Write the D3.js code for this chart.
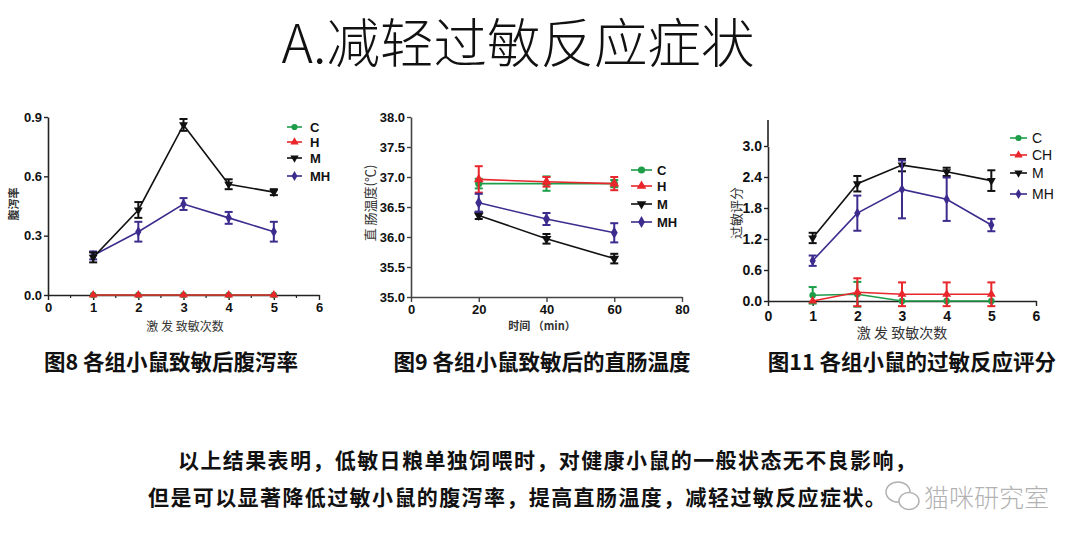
<!DOCTYPE html>
<html><head><meta charset="utf-8">
<script src="https://cdn.jsdelivr.net/npm/d3@7"></script>
<style>
body{margin:0;background:#fff;}
svg{display:block;}
</style></head>
<body>
<svg id="c" width="1080" height="544"></svg>
<script>
// ---------- data ----------
const groupsA = ["C","H","M","MH"];
const xA = [1,2,3,4,5];
const valA_C  = [0,0,0,0,0];
const valA_H  = [0,0,0,0,0];
const valA_M  = [0.19,0.43,0.86,0.56,0.52];
const errA_M  = [0.025,0.04,0.03,0.025,0.015];
const valA_MH = [0.20,0.32,0.46,0.39,0.32];
const errA_MH = [0.02,0.05,0.03,0.03,0.05];
const xTicksA = [0,1,2,3,4,5,6];
const yTicksA = [0,0.3,0.6,0.9];

const groupsB = ["C","H","M","MH"];
const xB = [20,40,60];
const valB_C  = [36.89,36.89,36.89];
const errB_C  = [0.08,0.12,0.06];
const valB_H  = [36.96,36.92,36.89];
const errB_H  = [0.22,0.08,0.11];
const valB_M  = [36.36,35.97,35.64];
const errB_M  = [0.06,0.08,0.08];
const valB_MH = [36.57,36.30,36.07];
const errB_MH = [0.15,0.10,0.16];
const xTicksB = [0,20,40,60,80];
const yTicksB = [35.0,35.5,36.0,36.5,37.0,37.5,38.0];

const groupsC = ["C","CH","M","MH"];
const xC = [1,2,3,4,5];
const valC_C  = [0.11,0.13,0,0,0];
const errC_C  = [0.16,0.24,0,0,0];
const valC_CH = [0,0.17,0.13,0.13,0.13];
const errC_CH = [0,0.27,0.23,0.23,0.23];
const valC_M  = [1.22,2.27,2.63,2.50,2.33];
const errC_M  = [0.10,0.15,0.12,0.08,0.20];
const valC_MH = [0.78,1.70,2.16,1.97,1.47];
const errC_MH = [0.10,0.34,0.56,0.42,0.12];
const xTicksC = [0,1,2,3,4,5,6];
const yTicksC = [0,0.6,1.2,1.8,2.4,3.0];

// ---------- drawing ----------
const svg = d3.select("#c");
const colors = {C:"#1f9e4a", H:"#e8262b", CH:"#e8262b", M:"#111111", MH:"#3d2b8e"};
const shapes = {C:d3.symbolCircle, H:d3.symbolTriangle, CH:d3.symbolTriangle, M:"tri-down", MH:d3.symbolDiamond};

function markerPath(g, size){
  if(shapes[g]==="tri-down") return d3.symbol(d3.symbolTriangle, size)();
  return d3.symbol(shapes[g], size)();
}

function chart(opt){
  const g = svg.append("g");
  const x = d3.scaleLinear().domain(opt.xDomain).range(opt.xRange);
  const y = d3.scaleLinear().domain(opt.yDomain).range(opt.yRange);
  const axisColor = opt.axisColor || "#222";
  const xAxis = g.append("g").attr("transform",`translate(0,${opt.yRange[0]})`)
    .call(d3.axisBottom(x).tickValues(opt.xTicks).tickSize(5).tickPadding(opt.xPad||3).tickSizeOuter(0).tickFormat(opt.xFmt));
  const yAxis = g.append("g").attr("transform",`translate(${opt.xRange[0]},0)`)
    .call(d3.axisLeft(y).tickValues(opt.yTicks).tickSize(4).tickPadding(2).tickSizeOuter(0).tickFormat(d3.format(".1f")));
  [xAxis,yAxis].forEach(a=>{
    a.select(".domain").attr("stroke",axisColor).attr("stroke-width",1.6);
    a.selectAll(".tick line").attr("stroke",axisColor).attr("stroke-width",1.4);
    a.selectAll(".tick text").attr("fill","#111").attr("font-family","Liberation Sans, Arial")
      .attr("font-weight","bold").attr("font-size",opt.tickFont||13);
  });
  if(opt.yTop){
    g.append("line").attr("x1",opt.xRange[0]).attr("x2",opt.xRange[0])
      .attr("y1",opt.yRange[1]).attr("y2",opt.yTop).attr("stroke",axisColor).attr("stroke-width",1.6);
  }
  if(opt.xMinor){
    g.selectAll(".minx").data(opt.xMinor).enter().append("line")
      .attr("x1",d=>x(d)).attr("x2",d=>x(d)).attr("y1",opt.yRange[0]).attr("y2",opt.yRange[0]+3)
      .attr("stroke",axisColor).attr("stroke-width",1.2);
  }
  opt.series.forEach(s=>{
    const col = colors[s.name];
    const pts = s.x.map((xv,i)=>({x:xv,y:s.v[i],e:s.e?s.e[i]:0}));
    g.append("path").datum(pts).attr("fill","none").attr("stroke",col).attr("stroke-width",1.6)
      .attr("d",d3.line().x(d=>x(d.x)).y(d=>y(d.y)));
    const eb = g.append("g").attr("stroke",col).attr("stroke-width",2).attr("fill","none");
    pts.filter(d=>d.e>0).forEach(d=>{
      const cx=x(d.x), y1=y(d.y+d.e), y2=y(d.y-d.e);
      eb.append("line").attr("x1",cx).attr("x2",cx).attr("y1",y1).attr("y2",y2);
      eb.append("line").attr("x1",cx-4).attr("x2",cx+4).attr("y1",y1).attr("y2",y1);
      eb.append("line").attr("x1",cx-4).attr("x2",cx+4).attr("y1",y2).attr("y2",y2);
    });
    g.selectAll(null).data(pts).enter().append("path")
      .attr("d",markerPath(s.name, opt.mSize||34)).attr("fill",col)
      .attr("transform",d=>`translate(${x(d.x)},${y(d.y)})${shapes[s.name]==="tri-down"?" rotate(180)":""}`);
  });
  opt.legendNames.forEach((n,i)=>{
    const ly = opt.legend.y[i];
    const col = colors[n];
    g.append("line").attr("x1",opt.legend.x0).attr("x2",opt.legend.x1).attr("y1",ly).attr("y2",ly)
      .attr("stroke",col).attr("stroke-width",1.6);
    g.append("path").attr("d",markerPath(n,opt.legend.ms||30)).attr("fill",col)
      .attr("transform",`translate(${(opt.legend.x0+opt.legend.x1)/2},${ly})${shapes[n]==="tri-down"?" rotate(180)":""}`);
    g.append("text").attr("x",opt.legend.tx).attr("y",ly).attr("dy","0.36em")
      .attr("font-family","Liberation Sans, Arial").attr("font-weight",opt.legend.bold?"bold":"normal")
      .attr("font-size",opt.legend.fs).attr("fill","#111").text(n);
  });
  g.append("text").attr("x",opt.xLabel.x).attr("y",opt.xLabel.y).attr("text-anchor","middle")
    .attr("font-family","Noto Sans CJK SC").attr("font-size",opt.xLabel.fs).attr("font-weight",opt.xLabel.w||"normal")
    .attr("fill","#333").text(opt.xLabel.t);
  g.append("text").attr("transform",`translate(${opt.yLabel.x},${opt.yLabel.y}) rotate(-90)`).attr("text-anchor","middle")
    .attr("font-family","Noto Sans CJK SC").attr("font-size",opt.yLabel.fs).attr("font-weight",opt.yLabel.w||"normal")
    .attr("fill","#333").text(opt.yLabel.t);
}

// Chart A (图8)
chart({
  xDomain:[0,6], xRange:[48,319], yDomain:[0,0.9], yRange:[295,117],
  xTicks:xTicksA, yTicks:yTicksA, xFmt:d3.format("d"),
  xMinor:[0.5,1.5,2.5,3.5,4.5,5.5], tickFont:13,
  series:[
    {name:"C",x:xA,v:valA_C},
    {name:"H",x:xA,v:valA_H},
    {name:"MH",x:xA,v:valA_MH,e:errA_MH},
    {name:"M",x:xA,v:valA_M,e:errA_M}
  ],
  legendNames:groupsA,
  legend:{x0:287,x1:302,tx:310,y:[127,142,158,176],fs:13,bold:true},
  xLabel:{x:185,y:331,t:"激 发 致敏次数",fs:12},
  yLabel:{x:18,y:204,t:"腹泻率",fs:11,w:"bold"}
});

// Chart B (图9)
chart({
  xDomain:[0,80], xRange:[411,682], yDomain:[35,38], yRange:[297,117],
  xTicks:xTicksB, yTicks:yTicksB, xFmt:d3.format("d"), tickFont:13,
  axisColor:"#444", mSize:42,
  series:[
    {name:"C",x:xB,v:valB_C,e:errB_C},
    {name:"H",x:xB,v:valB_H,e:errB_H},
    {name:"M",x:xB,v:valB_M,e:errB_M},
    {name:"MH",x:xB,v:valB_MH,e:errB_MH}
  ],
  legendNames:groupsB,
  legend:{x0:631,x1:652,tx:657,y:[170,186,204,222],fs:13,bold:true,ms:40},
  xLabel:{x:542,y:330,t:"时间 （min）",fs:11,w:"bold"},
  yLabel:{x:375,y:203,t:"直 肠温度(℃)",fs:13}
});

// Chart C (图11)
chart({
  xDomain:[0,6], xRange:[768,1036], yDomain:[0,3.0], yRange:[301,146],
  yTop:120, xPad:5,
  xTicks:xTicksC, yTicks:yTicksC, xFmt:d3.format("d"), tickFont:14,
  series:[
    {name:"C",x:xC,v:valC_C,e:errC_C},
    {name:"CH",x:xC,v:valC_CH,e:errC_CH},
    {name:"M",x:xC,v:valC_M,e:errC_M},
    {name:"MH",x:xC,v:valC_MH,e:errC_MH}
  ],
  legendNames:groupsC,
  legend:{x0:1010,x1:1027,tx:1032,y:[138,155,173,194],fs:14,bold:false},
  xLabel:{x:902,y:338,t:"激 发 致敏次数",fs:14},
  yLabel:{x:741,y:213,t:"过敏评分",fs:13}
});

// Title
svg.append("text").attr("x",518).attr("y",63).attr("text-anchor","middle")
  .attr("font-family","Noto Sans CJK SC").attr("font-weight",300).attr("font-size",53.5)
  .attr("fill","#111").text("A.减轻过敏反应症状");

// Captions
const captions = [
  {t:"图8 各组小鼠致敏后腹泻率", x:171},
  {t:"图9 各组小鼠致敏后的直肠温度", x:542},
  {t:"图11 各组小鼠的过敏反应评分", x:912}
];
captions.forEach(c=>{
  svg.append("text").attr("x",c.x).attr("y",370).attr("text-anchor","middle")
    .attr("font-family","Noto Sans CJK SC").attr("font-weight","bold").attr("font-size",21.5)
    .attr("fill","#111").text(c.t);
});

// Body text
const bodyLines = [
  {t:"以上结果表明，低敏日粮单独饲喂时，对健康小鼠的一般状态无不良影响，", x:178, y:468},
  {t:"但是可以显著降低过敏小鼠的腹泻率，提高直肠温度，减轻过敏反应症状。", x:148, y:505}
];
bodyLines.forEach(l=>{
  svg.append("text").attr("x",l.x).attr("y",l.y)
    .attr("font-family","Noto Sans CJK SC").attr("font-weight","bold").attr("font-size",21)
    .attr("letter-spacing",1.4).attr("fill","#111").text(l.t);
});

// Watermark
const wm = svg.append("g").attr("opacity",0.75);
wm.append("ellipse").attr("cx",898).attr("cy",492).attr("rx",12).attr("ry",10)
  .attr("fill","none").attr("stroke","#999").attr("stroke-width",1.5);
wm.append("ellipse").attr("cx",909).attr("cy",501).attr("rx",10).attr("ry",8.5)
  .attr("fill","#fff").attr("stroke","#999").attr("stroke-width",1.5);
wm.append("text").attr("x",924).attr("y",507).attr("font-family","Noto Sans CJK SC")
  .attr("font-size",25).attr("font-weight",300).attr("fill","#999").text("猫咪研究室");
</script>
</body></html>
